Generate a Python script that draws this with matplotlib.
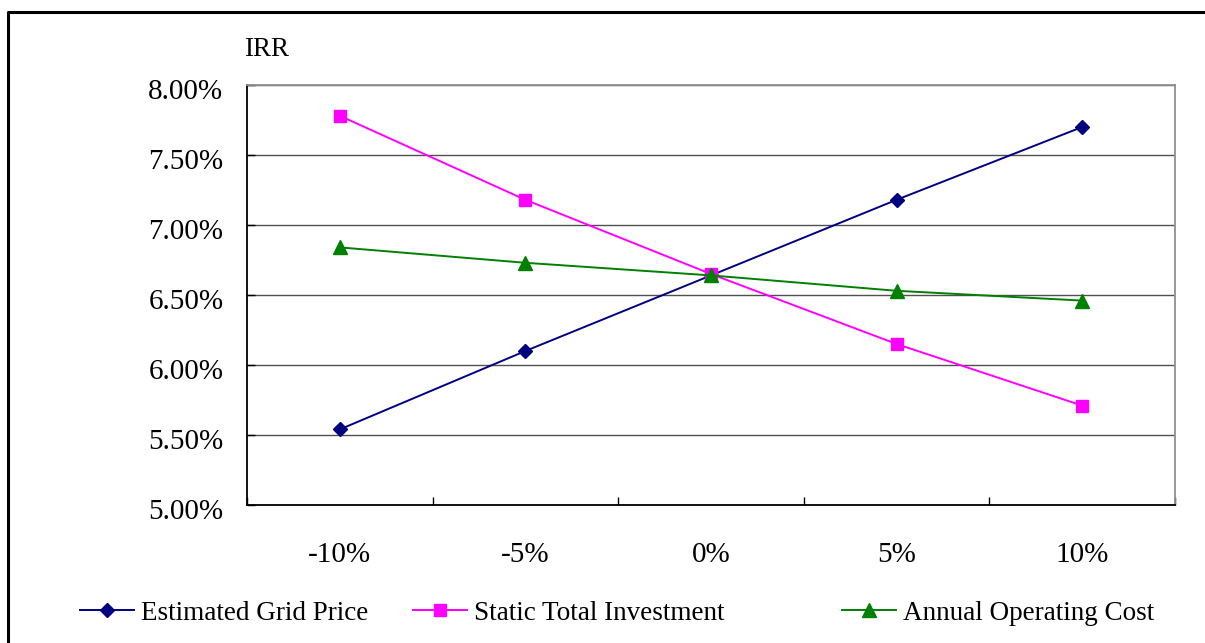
import matplotlib
matplotlib.use("Agg")
import matplotlib.pyplot as plt
from matplotlib.lines import Line2D
from matplotlib.transforms import ScaledTranslation

categories = ["-10%", "-5%", "0%", "5%", "10%"]
grid_price = [5.54, 6.10, 6.64, 7.18, 7.70]
static_investment = [7.78, 7.18, 6.65, 6.15, 5.71]
operating_cost = [6.84, 6.73, 6.64, 6.53, 6.46]
y_ticks = [5.0, 5.5, 6.0, 6.5, 7.0, 7.5, 8.0]
series_names = ["Estimated Grid Price", "Static Total Investment", "Annual Operating Cost"]

plt.rcParams['font.family'] = ['Liberation Serif', 'DejaVu Serif']

W, H = 1205, 643
fig = plt.figure(figsize=(W / 100, H / 100), dpi=100)
ax = fig.add_axes([247 / W, 1 - 505 / H, (1175 - 247) / W, (505 - 85) / H])

x = list(range(len(categories)))
l1, = ax.plot(x, grid_price, color='#000080', marker='D', markersize=7.5, lw=1.4, label=series_names[0], zorder=3)
l2, = ax.plot(x, static_investment, color='#FF00FF', marker='s', markersize=8, lw=1.4, label=series_names[1], zorder=3)
l3, = ax.plot(x, operating_cost, color='#008000', marker='^', markersize=9.5, lw=1.4, label=series_names[2], zorder=4)

ax.set_xlim(-0.5, len(categories) - 0.5)
ax.set_ylim(5.0, 8.0)
ax.set_yticks(y_ticks)
ax.set_yticklabels([f"{v:.2f}%" for v in y_ticks], fontsize=21)
ax.tick_params(axis='y', direction='in', length=6, width=1, pad=17, color='black')
off = ScaledTranslation(0, -4 / 100, fig.dpi_scale_trans)
for lab in ax.get_yticklabels():
    lab.set_transform(lab.get_transform() + off)

bounds = [i - 0.5 for i in range(len(categories) + 1)]
ax.set_xticks(bounds)
ax.set_xticklabels([""] * len(bounds))
ax.tick_params(axis='x', which='major', direction='in', length=6, width=1, color='black')
ax.set_xticks(x, minor=True)
ax.set_xticklabels(categories, minor=True, fontsize=21)
ax.tick_params(axis='x', which='minor', length=0, pad=27)

ax.grid(axis='y', color='#505050', lw=1.0)
ax.set_axisbelow(True)
for s in ['left', 'bottom']:
    ax.spines[s].set_color('black')
    ax.spines[s].set_linewidth(1.3)
for s in ['top', 'right']:
    ax.spines[s].set_color('#909090')
    ax.spines[s].set_linewidth(1.3)

fig.text(267 / W, 1 - 50 / H, "IRR", fontsize=19.5, ha='center', va='center')

for h, xs in zip([l1, l2, l3], [80, 413, 842]):
    fig.legend(handles=[h], loc='center left', bbox_to_anchor=(xs / W, 1 - 613 / H),
               frameon=False, borderpad=0, borderaxespad=0, handlelength=2.0,
               handletextpad=0.25, fontsize=19.5)

frame = Line2D([8 / W, 8 / W, 1.0], [0.0, 1 - 12 / H, 1 - 12 / H], transform=fig.transFigure,
               color='black', lw=2.2)
fig.add_artist(frame)

fig.savefig("out.png", dpi=100)
